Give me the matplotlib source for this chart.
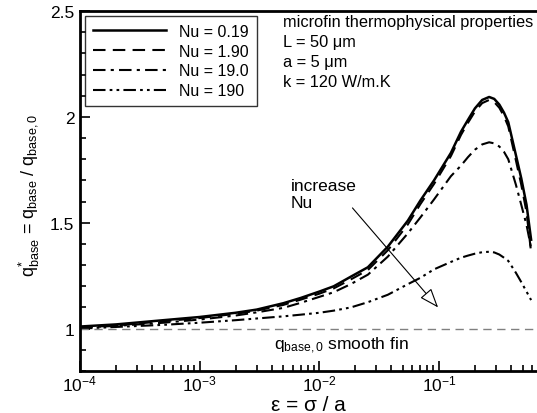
import matplotlib
matplotlib.use("Agg")
import matplotlib.pyplot as plt
from matplotlib.ticker import LogLocator, MultipleLocator, LogFormatterSciNotation

plt.rcParams['font.family'] = ['Liberation Sans', 'DejaVu Sans']
plt.rcParams['mathtext.fontset'] = 'custom'
plt.rcParams['mathtext.rm'] = 'Liberation Sans'
plt.rcParams['mathtext.it'] = 'Liberation Sans'
plt.rcParams['mathtext.bf'] = 'Liberation Sans:bold'

# ---- data ----
eps = [1e-4, 2e-4, 5e-4, 1e-3, 2e-3, 3e-3, 5e-3, 7e-3, 1e-2, 0.0132, 0.0183, 0.0255,
       0.0374, 0.055, 0.07, 0.091, 0.126, 0.153, 0.175, 0.20, 0.23, 0.263, 0.29, 0.32,
       0.35, 0.38, 0.44, 0.488, 0.54, 0.59]

q_nu019 = [1.010, 1.020, 1.040, 1.055, 1.075, 1.090, 1.120, 1.145, 1.175, 1.200, 1.245, 1.290,
           1.387, 1.510, 1.605, 1.700, 1.830, 1.930, 1.986, 2.040, 2.080, 2.094, 2.085, 2.058,
           2.020, 1.975, 1.820, 1.710, 1.585, 1.420]
q_nu190 = [1.005, 1.015, 1.035, 1.050, 1.070, 1.085, 1.112, 1.137, 1.165, 1.190, 1.232, 1.277,
           1.370, 1.492, 1.588, 1.683, 1.815, 1.915, 1.972, 2.025, 2.065, 2.080, 2.070, 2.043,
           2.003, 1.955, 1.795, 1.680, 1.550, 1.360]
q_nu19 = [1.005, 1.013, 1.028, 1.043, 1.062, 1.077, 1.098, 1.122, 1.150, 1.172, 1.210, 1.255,
          1.340, 1.450, 1.525, 1.610, 1.720, 1.770, 1.810, 1.845, 1.870, 1.880, 1.875, 1.860,
          1.835, 1.800, 1.680, 1.585, 1.490, 1.380]
q_nu1900 = [1.000, 1.008, 1.018, 1.028, 1.040, 1.048, 1.058, 1.066, 1.075, 1.085, 1.100, 1.125,
            1.160, 1.210, 1.240, 1.280, 1.315, 1.335, 1.345, 1.354, 1.361, 1.363, 1.360, 1.350,
            1.335, 1.320, 1.264, 1.220, 1.175, 1.135]

labels = ["Nu = 0.19", "Nu = 1.90", "Nu = 19.0", "Nu = 190"]
smooth_x = [1e-4, 0.7]
smooth_y = [1.0, 1.0]

fig = plt.figure(figsize=(5.37, 4.14), dpi=100)
ax = fig.add_axes([80/537, 1 - 372/414, 460/537, 360/414])

lw = 1.5
ax.plot(eps, q_nu019, color='black', lw=1.8, ls='-', label=labels[0])
ax.plot(eps, q_nu190, color='black', lw=lw, ls=(0, (6, 3.5)), label=labels[1])
ax.plot(eps, q_nu19, color='black', lw=lw, ls=(0, (6, 2.5, 1.5, 2.5)), label=labels[2])
ax.plot(eps, q_nu1900, color='black', lw=lw, ls=(0, (6, 2, 1.3, 2, 1.3, 2)), label=labels[3])
ax.plot(smooth_x, smooth_y, color='#808080', lw=1.0, ls=(0, (6, 4)))

ax.set_xscale('log')
ax.set_xlim(1e-4, 0.7)
ax.set_ylim(0.8, 2.5)

ax.xaxis.set_major_locator(LogLocator(base=10, numticks=10))
ax.xaxis.set_minor_locator(LogLocator(base=10, subs=range(2, 10), numticks=20))
ax.xaxis.set_major_formatter(LogFormatterSciNotation())
ax.set_yticks([1, 1.5, 2, 2.5])
ax.set_yticklabels(['1', '1.5', '2', '2.5'])
ax.yaxis.set_minor_locator(MultipleLocator(0.1))

ax.tick_params(which='both', direction='in', top=False, right=False, labelsize=12.5, width=1.2)
ax.tick_params(which='major', length=7)
ax.tick_params(axis='x', which='major', pad=2)
ax.tick_params(axis='y', which='major', pad=4)
ax.tick_params(which='minor', length=4)
for s in ax.spines.values():
    s.set_linewidth(2)

ax.set_xlabel('ε = σ / a', fontsize=15)
ax.xaxis.set_label_coords(0.497, -0.068)
ax.set_ylabel(r'q$^{*}_{\mathrm{base}}$ = q$_{\mathrm{base}}$ / q$_{\mathrm{base,0}}$',
              fontsize=13)
ax.yaxis.set_label_coords(-0.085, 0.49)

leg = ax.legend(loc='upper left', fontsize=11.5, frameon=True, fancybox=False,
                handlelength=4.6, borderaxespad=0.3, labelspacing=0.3,
                handletextpad=0.8, borderpad=0.5)
leg.get_frame().set_edgecolor('black')
leg.get_frame().set_linewidth(1.0)

ax.text(283/537, 1 - 15/414, 'microfin thermophysical properties\nL = 50 μm\na = 5 μm\nk = 120 W/m.K',
        transform=fig.transFigure, fontsize=11.8, va='top', ha='left', linespacing=1.42)

ax.text(0.0058, 1.71, 'increase\nNu', fontsize=12.5, va='top', ha='left', linespacing=1.15)
ax.annotate('', xy=(0.102, 1.09), xytext=(0.0183, 1.58),
            arrowprops=dict(arrowstyle='-|>,head_length=1.2,head_width=0.45',
                            facecolor='white', edgecolor='black', lw=0.8))

ax.text(0.00415, 0.925, r'q$_{\mathrm{base,0}}$ smooth fin', fontsize=12.5, va='center', ha='left')

fig.savefig('out.png', dpi=100)
